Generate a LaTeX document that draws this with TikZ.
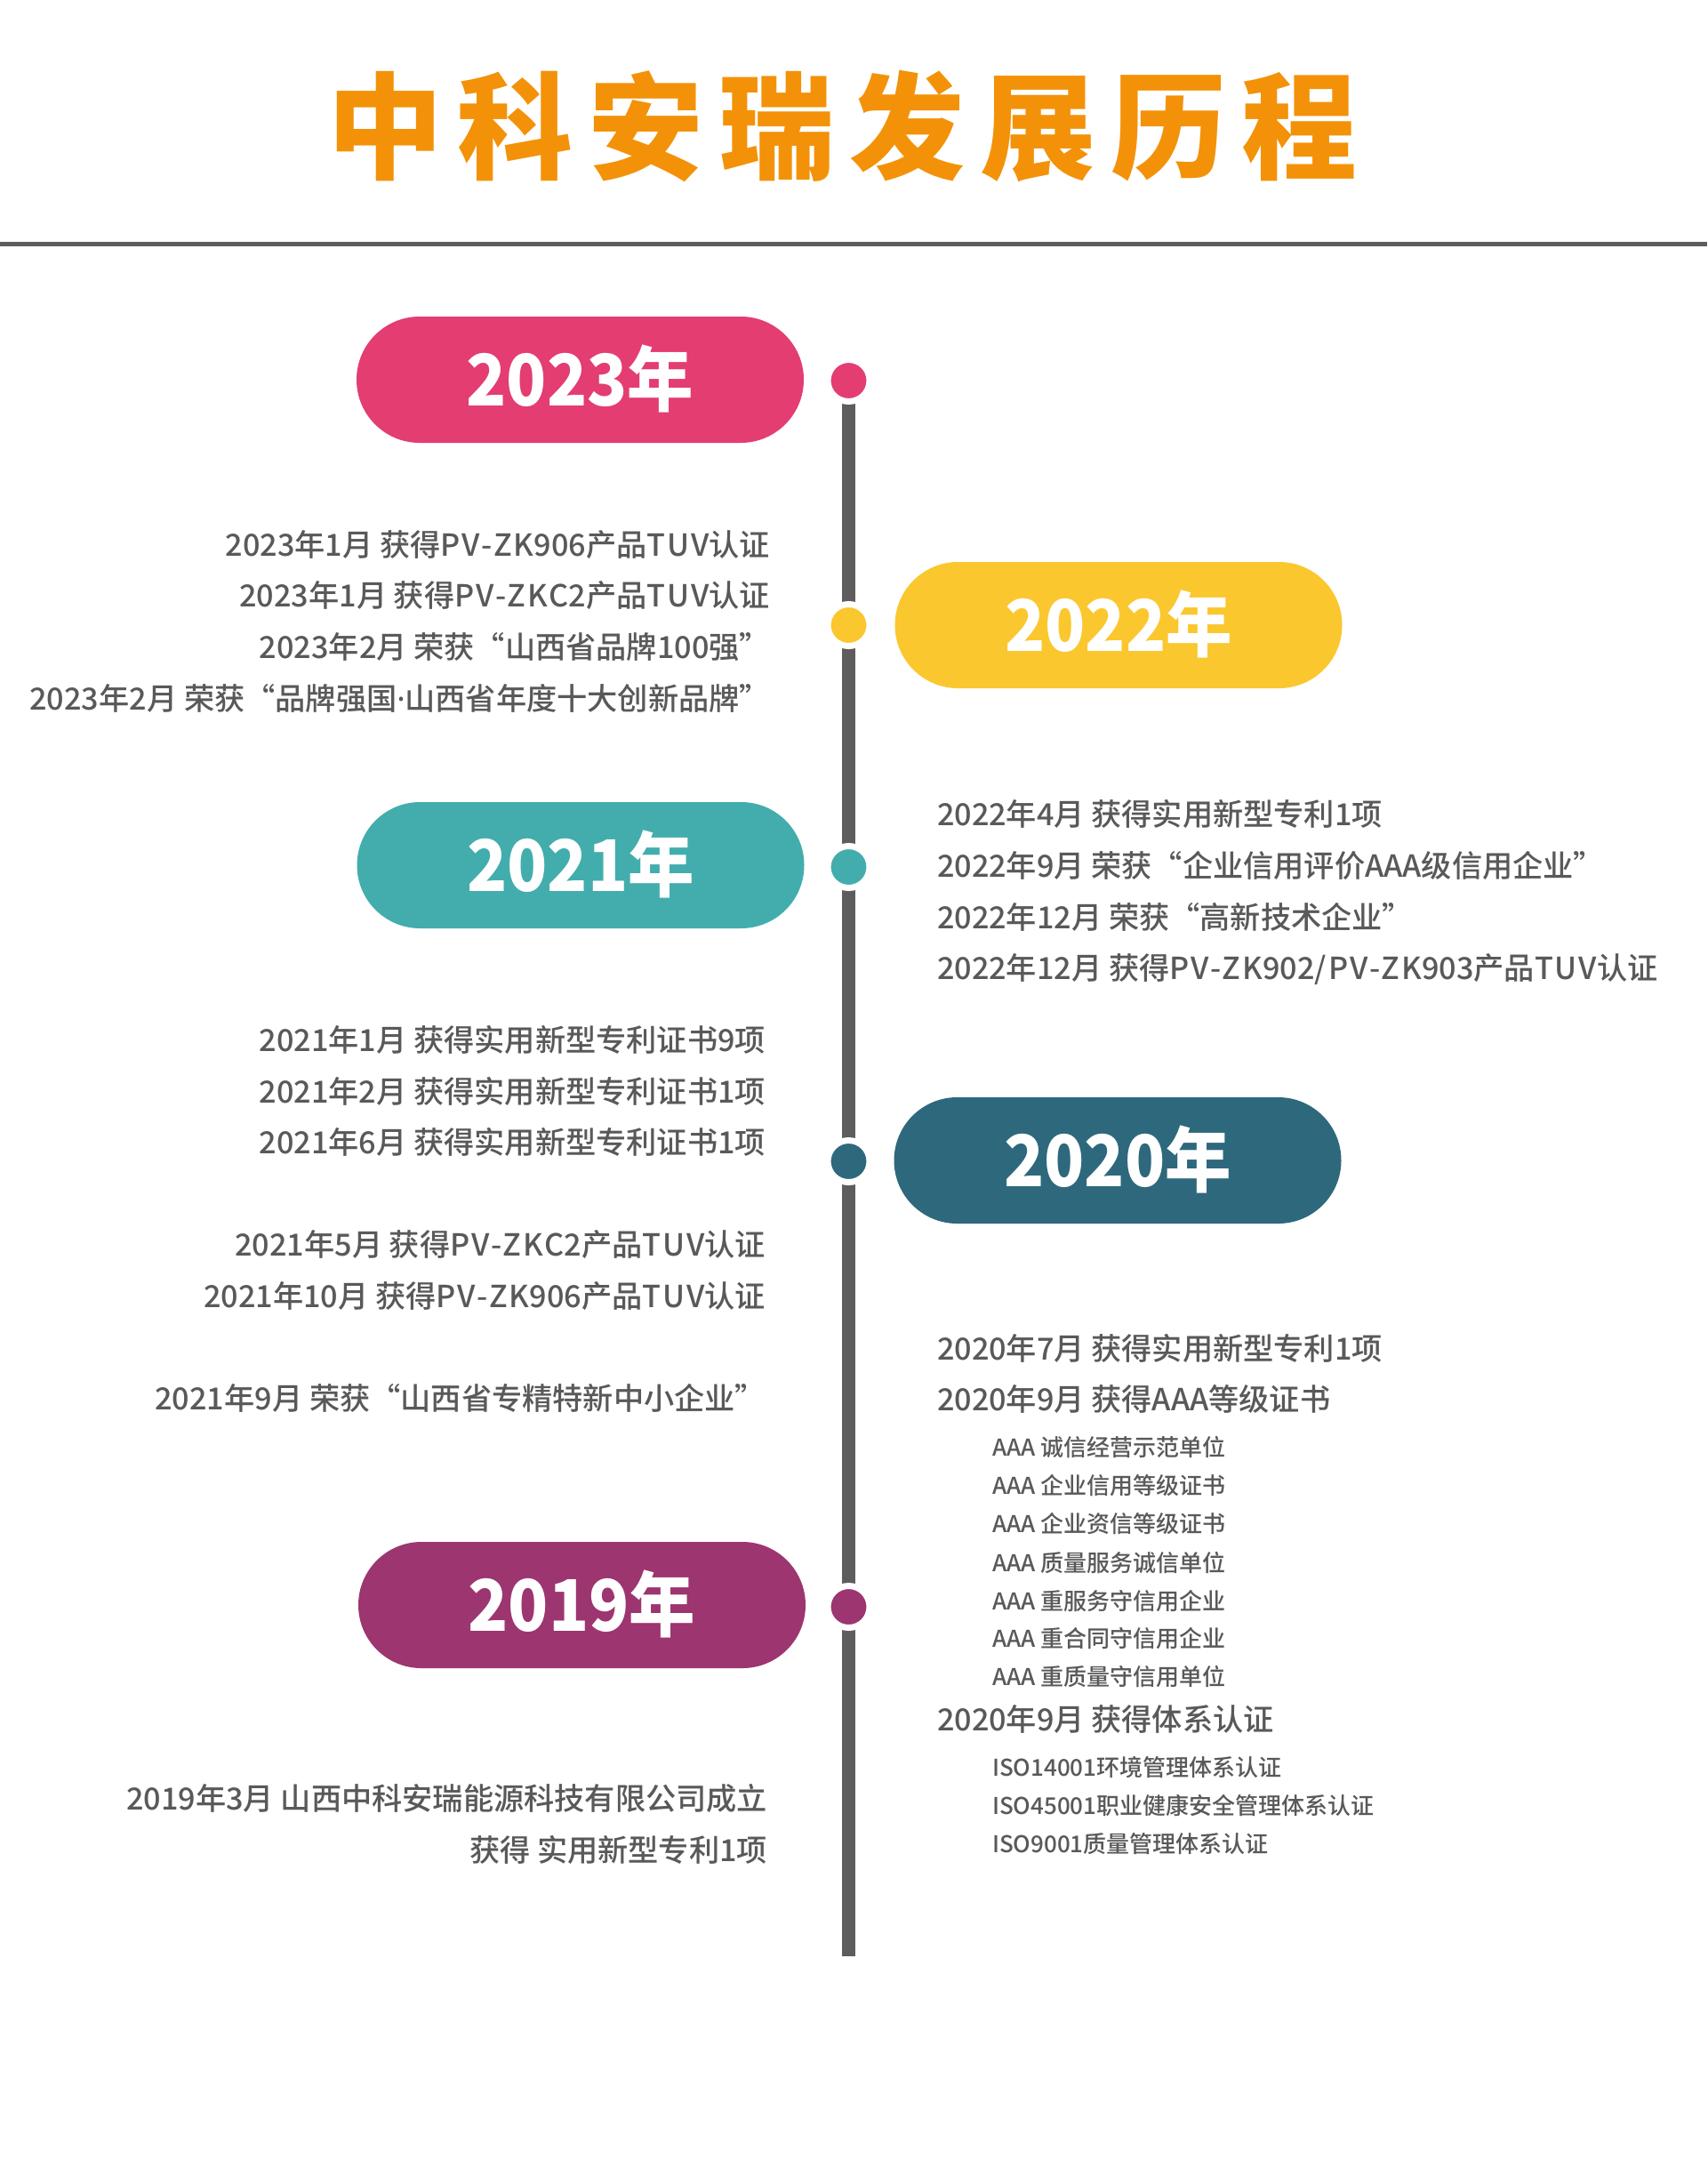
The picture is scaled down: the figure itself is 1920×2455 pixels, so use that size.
\documentclass[tikz,border=0pt]{standalone}
\usepackage{fontspec}
\setmainfont{Noto Sans CJK SC}
\newfontfamily\cjk{Noto Sans CJK SC}
\newfontfamily\pillfont{Noto Sans CJK SC}[FakeStretch=0.93]
\IfFontExistsTF{Noto Sans CJK SC Medium}
  {\newfontfamily\cjkm{Noto Sans CJK SC Medium}\newfontfamily\cjkl{Noto Sans CJK SC Medium}[LetterSpace=6]}
  {\newfontfamily\cjkm{Noto Sans CJK SC}[FakeBold=1]\newfontfamily\cjkl{Noto Sans CJK SC}[FakeBold=1,LetterSpace=6]}
\newfontfamily\latm{Noto Sans}[FakeBold=0.6]
\newcommand{\lat}[1]{{\cjkl #1}}
\newcommand{\mdot}{{\latm ·}}
\definecolor{ctitle}{HTML}{F39208}
\definecolor{c23}{HTML}{E33D72}
\definecolor{c22}{HTML}{FBC72F}
\definecolor{c21}{HTML}{43ADAD}
\definecolor{c20}{HTML}{2E687C}
\definecolor{c19}{HTML}{9C3570}
\definecolor{lgray}{HTML}{5E5C5D}
\definecolor{tgray}{HTML}{5A5959}
\newcommand{\tsp}{\hspace{17pt}}
\tikzset{
  pill/.style={rounded corners=71pt, minimum width=503pt, minimum height=142pt, inner sep=0pt, outer sep=0pt,
    text=white, font=\pillfont\bfseries\fontsize{80}{90}\selectfont, text height=58.6pt, text depth=0pt},
  tdot/.style={circle, minimum size=47pt, inner sep=0pt, draw=white, line width=7pt},
  txt/.style={inner sep=0pt, outer sep=0pt, text=tgray, font=\cjkm\fontsize{34.2}{40}\selectfont},
  stxt/.style={inner sep=0pt, outer sep=0pt, text=tgray, font=\cjkm\fontsize{26}{30}\selectfont},
  lt/.style={txt, anchor=base east},
  rt/.style={txt, anchor=base west},
  rs/.style={stxt, anchor=base west}
}
\begin{document}
\begin{tikzpicture}[x=1pt,y=-1pt]
\useasboundingbox (0,0) rectangle (1920,2455);
\fill[white] (0,0) rectangle (1920,2455);
% title
\node[anchor=base, inner sep=0pt, text=ctitle, font=\cjk\bfseries\fontsize{130}{140}\selectfont] (title) at (947.5,191)
  {中\tsp 科\tsp 安\tsp 瑞\tsp 发\tsp 展\tsp 历\tsp 程};
\coordinate (rl) at (0,274.5);
\coordinate (rr) at (1920,274.5);
\draw[lgray, line width=5pt] (rl) -- (rr);
% timeline
\coordinate (c2023) at (954.5,428);
\coordinate (c2022) at (954.5,703);
\coordinate (c2021) at (954.5,975);
\coordinate (c2020) at (954.5,1306);
\coordinate (c2019) at (954.5,1807);
\coordinate (tend) at (954.5,2200);
\draw[lgray, line width=15pt] (c2023) -- (tend);
\node[tdot, fill=c23] (d2023) at (c2023) {};
\node[tdot, fill=c22] (d2022) at (c2022) {};
\node[tdot, fill=c21] (d2021) at (c2021) {};
\node[tdot, fill=c20] (d2020) at (c2020) {};
\node[tdot, fill=c19] (d2019) at (c2019) {};
% pills
\node[pill, fill=c23] (p2023) at (652.5,427) {2023年};
\node[pill, fill=c22] (p2022) at (1258,703) {2022年};
\node[pill, fill=c21] (p2021) at (653,973) {2021年};
\node[pill, fill=c20] (p2020) at (1257,1305) {2020年};
\node[pill, fill=c19] (p2019) at (654.5,1805) {2019年};
% 2023
\node[lt] (a1) at (866,625) {2023年1月 获得\lat{PV-ZK}906产品\lat{TUV}认证};
\node[lt] (a2) at (866,682) {2023年1月 获得\lat{PV-ZKC}2产品\lat{TUV}认证};
\node[lt] (a3) at (866,740) {2023年2月 荣获“山西省品牌100强”};
\node[lt] (a4) at (866,798) {2023年2月 荣获“品牌强国\mdot 山西省年度十大创新品牌”};
% 2022
\node[rt] (b1) at (1054,928) {2022年4月 获得实用新型专利1项};
\node[rt] (b2) at (1054,986) {2022年9月 荣获“企业信用评价AAA级信用企业”};
\node[rt] (b3) at (1054,1044) {2022年12月 荣获“高新技术企业”};
\node[rt] (b4) at (1054,1101) {2022年12月 获得\lat{PV-ZK}902\lat{/PV-ZK}903产品\lat{TUV}认证};
% 2021
\node[lt] (e1) at (861,1182) {2021年1月 获得实用新型专利证书9项};
\node[lt] (e2) at (861,1240) {2021年2月 获得实用新型专利证书1项};
\node[lt] (e3) at (861,1297) {2021年6月 获得实用新型专利证书1项};
\node[lt] (e4) at (861,1412) {2021年5月 获得\lat{PV-ZKC}2产品\lat{TUV}认证};
\node[lt] (e5) at (861,1470) {2021年10月 获得\lat{PV-ZK}906产品\lat{TUV}认证};
\node[lt] (e6) at (861,1585) {2021年9月 荣获“山西省专精特新中小企业”};
% 2020
\node[rt] (f1) at (1054,1529) {2020年7月 获得实用新型专利1项};
\node[rt] (f2) at (1054,1586) {2020年9月 获得AAA等级证书};
\node[rs] (g1) at (1116,1637) {AAA 诚信经营示范单位};
\node[rs] (g2) at (1116,1680) {AAA 企业信用等级证书};
\node[rs] (g3) at (1116,1723) {AAA 企业资信等级证书};
\node[rs] (g4) at (1116,1767) {AAA 质量服务诚信单位};
\node[rs] (g5) at (1116,1810) {AAA 重服务守信用企业};
\node[rs] (g6) at (1116,1852) {AAA 重合同守信用企业};
\node[rs] (g7) at (1116,1895) {AAA 重质量守信用单位};
\node[rt] (f3) at (1054,1946) {2020年9月 获得体系认证};
\node[rs] (h1) at (1116,1997) {ISO14001环境管理体系认证};
\node[rs] (h2) at (1116,2040) {ISO45001职业健康安全管理体系认证};
\node[rs] (h3) at (1116,2083) {ISO9001质量管理体系认证};
% 2019
\node[lt] (k1) at (863,2035) {2019年3月 山西中科安瑞能源科技有限公司成立};
\node[lt] (k2) at (863,2093) {获得 实用新型专利1项};
\end{tikzpicture}
\end{document}
